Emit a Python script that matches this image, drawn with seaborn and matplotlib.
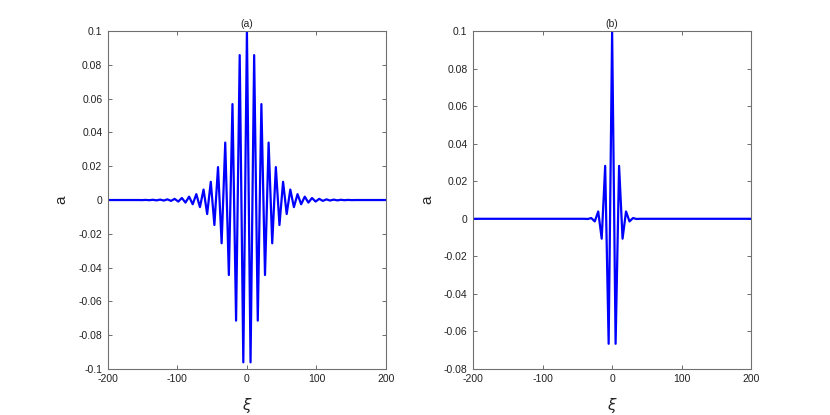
# Wave packets a(xi), two panels

import numpy as np
import pandas as pd
from matplotlib import pyplot as plt
from matplotlib.ticker import FormatStrFormatter
import seaborn as sns

sns.set_style('ticks')
plt.rcParams['font.family'] = ['Liberation Sans', 'DejaVu Sans']
plt.rcParams['axes.unicode_minus'] = False

# Data: extrema, xi >= 0 (curves are symmetric)
xi_a = [0, 5.2, 10.4, 15.6, 20.8, 26.0, 31.2, 36.4, 41.6, 46.8, 52.0, 57.2,
        62.4, 67.6, 72.8, 78.0, 83.2, 88.4, 93.6, 98.8, 104.0, 109.2, 114.4,
        119.6, 124.8, 130.0, 135.2, 140.4, 145.6, 150.8, 156.0, 200.0]
a_a = [0.1, -0.0961, 0.0858, -0.0714, 0.0568, -0.0444, 0.034, -0.0256,
       0.0195, -0.0148, 0.0108, -0.0083, 0.0062, -0.0042, 0.0035, -0.0025,
       0.002, -0.0015, 0.0012, -0.0009, 0.0007, -0.0005, 0.0004, -0.0003,
       0.00025, -0.0002, 0.00015, -0.0001, 0.00008, -0.00005, 0.0, 0.0]

xi_b = [0, 5.0, 10.0, 15.0, 20.0, 25.0, 30.0, 35.0, 40.0, 200.0]
a_b = [0.1, -0.0666, 0.0282, -0.0106, 0.0039, -0.0014, 0.0004, -0.0001, 0.0, 0.0]

yticks_a = [-0.1, -0.08, -0.06, -0.04, -0.02, 0, 0.02, 0.04, 0.06, 0.08, 0.1]
yticks_b = [-0.08, -0.06, -0.04, -0.02, 0, 0.02, 0.04, 0.06, 0.08, 0.1]
xticks = [-200, -100, 0, 100, 200]


def mirror(x, y):
    x = np.asarray(x)
    y = np.asarray(y)
    return pd.DataFrame({'xi': np.concatenate([-x[::-1], x[1:]]),
                         'a': np.concatenate([y[::-1], y[1:]])})


df_a = mirror(xi_a, a_a)
df_b = mirror(xi_b, a_b)

fig = plt.figure(figsize=(8.3, 4.15), dpi=100)
ax1 = fig.add_axes([0.130, 0.111, 0.335, 0.814])
ax2 = fig.add_axes([0.570, 0.111, 0.335, 0.814])

panels = [(ax1, df_a, '(a)', yticks_a), (ax2, df_b, '(b)', yticks_b)]
for ax, df, title, yt in panels:
    sns.lineplot(x='xi', y='a', data=df, ax=ax, color='#0000ff',
                 linewidth=1.6, estimator=None, sort=False)
    ax.set_xlim(-200, 200)
    ax.set_ylim(yt[0], yt[-1])
    ax.set_xticks(xticks)
    ax.set_yticks(yt)
    ax.yaxis.set_major_formatter(FormatStrFormatter('%g'))
    ax.tick_params(direction='in', length=3, width=0.6, labelsize=7.5,
                   colors='#555555', labelcolor='#222222', pad=4,
                   top=True, right=True)
    for s in ax.spines.values():
        s.set_color('#707070')
        s.set_linewidth(0.8)
    ax.set_title(title, fontsize=7.5, pad=3)
    ax.set_xlabel(r'$\xi$', fontsize=11, labelpad=8)
    ax.set_ylabel('a', fontsize=11, labelpad=7)

plt.savefig('out.png', dpi=100)
